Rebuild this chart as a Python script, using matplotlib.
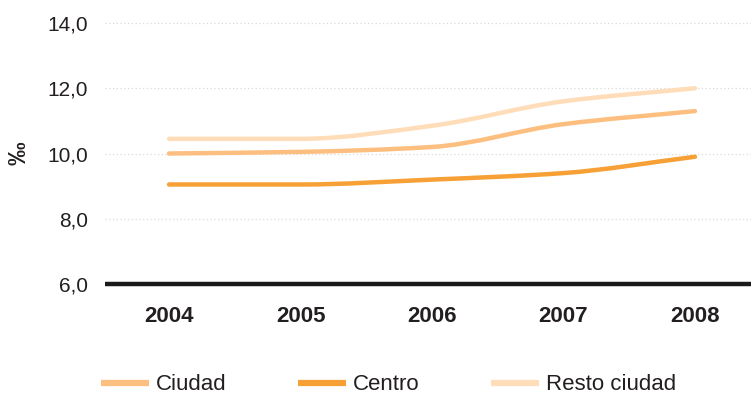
import matplotlib
matplotlib.use("Agg")
import matplotlib.pyplot as plt
import numpy as np
from matplotlib.path import Path
from matplotlib.patches import PathPatch
from matplotlib.lines import Line2D

plt.rcParams['font.family'] = ['Liberation Sans', 'DejaVu Sans']

years = ["2004", "2005", "2006", "2007", "2008"]
ciudad = [10.0, 10.05, 10.2, 10.9, 11.3]
centro = [9.05, 9.05, 9.2, 9.4, 9.9]
resto = [10.45, 10.45, 10.85, 11.6, 12.0]
series_names = ["Ciudad", "Centro", "Resto ciudad"]
series_colors = ["#FDBF80", "#F7A035", "#FEDDB8"]
y_ticks = [6, 8, 10, 12, 14]
y_tick_labels = ["6,0", "8,0", "10,0", "12,0", "14,0"]

TEXT = "#231F20"


def smooth_path(xs, ys):
    """Monotone cubic Bezier path through the given points."""
    xs = np.asarray(xs, float)
    ys = np.asarray(ys, float)
    n = len(xs)
    d = np.diff(ys) / np.diff(xs)
    m = np.zeros(n)
    m[0], m[-1] = d[0], d[-1]
    for i in range(1, n - 1):
        if d[i - 1] * d[i] <= 0:
            m[i] = 0
        else:
            m[i] = 2 / (1 / d[i - 1] + 1 / d[i])
    verts = [(xs[0], ys[0])]
    codes = [Path.MOVETO]
    for i in range(n - 1):
        h = xs[i + 1] - xs[i]
        verts += [(xs[i] + h / 3, ys[i] + m[i] * h / 3),
                  (xs[i + 1] - h / 3, ys[i + 1] - m[i + 1] * h / 3),
                  (xs[i + 1], ys[i + 1])]
        codes += [Path.CURVE4] * 3
    return Path(verts, codes)


fig = plt.figure(figsize=(7.51, 3.94), dpi=100)
ax = fig.add_axes([105 / 751, 1 - 284 / 394, 1 - 105 / 751, (284 - 23) / 394])

x = np.arange(len(years))
handles = []
for vals, name, col in zip([ciudad, centro, resto], series_names, series_colors):
    patch = PathPatch(smooth_path(x, vals), facecolor="none", edgecolor=col,
                      lw=3.2, capstyle="round", joinstyle="round", zorder=3)
    ax.add_patch(patch)
    handles.append(Line2D([], [], color=col, lw=4.5, solid_capstyle="butt", label=name))

ax.set_xlim(-0.487, 4.426)
ax.set_ylim(6, 14)
ax.set_xticks(x)
ax.set_xticklabels(years, fontsize=16, fontweight="bold", color=TEXT)
ax.set_yticks(y_ticks)
ax.set_yticklabels(y_tick_labels, fontsize=15, color=TEXT)
ax.tick_params(axis="x", length=0, pad=16)
ax.tick_params(axis="y", length=0, pad=12)

for v in y_ticks[1:]:
    ax.axhline(v, color="#DADADA", lw=0.9, ls=(0, (1, 2)), zorder=1, clip_on=False)

for s in ["top", "right", "left"]:
    ax.spines[s].set_visible(False)
ax.spines["bottom"].set_color("#1A1A1A")
ax.spines["bottom"].set_linewidth(3.2)
ax.spines["bottom"].set_capstyle("butt")

fig.text(19.5 / 751, 1 - 153 / 394, "‰", rotation=90, fontsize=17, fontweight="bold",
         color=TEXT, ha="center", va="center")

fig.legend(handles=handles, loc="center left", bbox_to_anchor=(101 / 751, 1 - 385 / 394),
           ncol=3, frameon=False, fontsize=16, handlelength=2.16, handletextpad=0.32,
           columnspacing=3.2, borderpad=0, borderaxespad=0, labelcolor=TEXT)

fig.savefig("out.png", dpi=100)
